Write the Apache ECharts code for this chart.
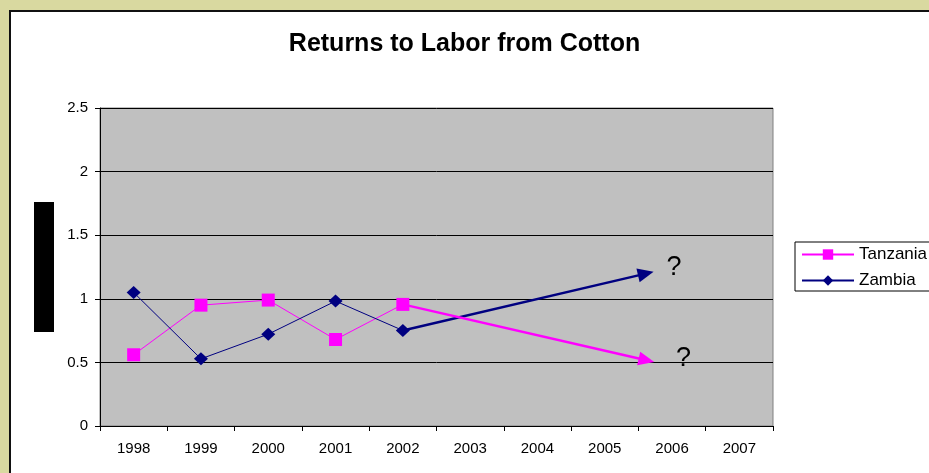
<!DOCTYPE html>
<html>
<head>
<meta charset="utf-8">
<script src="https://cdn.jsdelivr.net/npm/echarts@6/dist/echarts.min.js"></script>
<style>
  html, body { margin: 0; padding: 0; width: 929px; height: 473px; overflow: hidden; background: #D9D9A0; }
  #panel { position: absolute; left: 9px; top: 10px; width: 940px; height: 480px; background: #ffffff;
           border-left: 2px solid #111; border-top: 2px solid #111; }
  #chart { position: absolute; left: 0; top: 0; width: 929px; height: 473px; }
</style>
</head>
<body>
<div id="panel"></div>
<div id="chart"></div>
<script>
// Years on the horizontal axis
const years = ['1998', '1999', '2000', '2001', '2002', '2003', '2004', '2005', '2006', '2007'];

// Returns to labor from cotton, 1998-2002
const tanzania = [0.56, 0.95, 0.99, 0.68, 0.956];
const zambia = [1.05, 0.528, 0.722, 0.982, 0.751];

// Projected direction after 2002 (x in category-index units, center of a year = index + 0.5)
const zambiaTrendEnd = [8.11, 1.198];
const tanzaniaTrendEnd = [8.12, 0.517];

// Position of the "?" notes next to each projection
const zambiaQuestion = [8.53, 1.246];
const tanzaniaQuestion = [8.67, 0.529];

const yTicks = { min: 0, max: 2.5, interval: 0.5 };

const FONT = "'Liberation Sans', Arial, sans-serif";
const MAGENTA = '#FF00FF';
const NAVY = '#000080';

const lastIdx = tanzania.length - 1;

const chart = echarts.init(document.getElementById('chart'), null, { renderer: 'canvas' });

chart.setOption({
  animation: false,
  backgroundColor: 'transparent',
  textStyle: { fontFamily: FONT },
  title: {
    text: 'Returns to Labor from Cotton',
    left: 'center',
    top: 27,
    textStyle: { fontFamily: FONT, fontSize: 25, fontWeight: 'bold', color: '#000' }
  },
  legend: {
    orient: 'vertical',
    left: 795,
    top: 242,
    padding: [4, 12, 2, 6],
    itemWidth: 52,
    itemHeight: 13,
    itemGap: 9,
    borderColor: '#000',
    borderWidth: 1,
    backgroundColor: '#fff',
    data: ['Tanzania', 'Zambia'],
    textStyle: { fontFamily: FONT, fontSize: 17, color: '#000' }
  },
  grid: {
    left: 100,
    right: 156,
    top: 108,
    bottom: 47,
    show: true,
    backgroundColor: '#C0C0C0',
    borderColor: '#808080',
    borderWidth: 1
  },
  xAxis: [
    {
      type: 'category',
      data: years,
      boundaryGap: true,
      axisLine: { lineStyle: { color: '#000', width: 1 } },
      axisTick: { show: true, length: 5, lineStyle: { color: '#000' } },
      axisLabel: { fontFamily: FONT, fontSize: 15, color: '#000', margin: 15 },
      splitLine: { show: false }
    },
    {
      type: 'value',
      min: 0,
      max: years.length,
      show: false,
      splitLine: { show: false }
    }
  ],
  yAxis: {
    type: 'value',
    min: yTicks.min,
    max: yTicks.max,
    interval: yTicks.interval,
    axisLine: { show: true, lineStyle: { color: '#000', width: 1 } },
    axisTick: { show: true, length: 5, lineStyle: { color: '#000' } },
    axisLabel: { fontFamily: FONT, fontSize: 15, color: '#000', margin: 12 },
    splitLine: { show: true, lineStyle: { color: '#000', width: 1 } }
  },
  series: [
    {
      name: 'Tanzania',
      type: 'line',
      data: tanzania,
      symbol: 'rect',
      symbolSize: 13,
      showAllSymbol: true,
      lineStyle: { color: MAGENTA, width: 1 },
      itemStyle: { color: MAGENTA },
      z: 3
    },
    {
      name: 'Zambia',
      type: 'line',
      data: zambia,
      symbol: 'diamond',
      symbolSize: [14, 13],
      showAllSymbol: true,
      lineStyle: { color: NAVY, width: 1 },
      itemStyle: { color: NAVY },
      z: 4
    },
    {
      // projection arrows drawn on the continuous helper x axis
      name: 'projection',
      type: 'line',
      xAxisIndex: 1,
      data: [],
      silent: true,
      markLine: {
        silent: true,
        symbol: ['none', 'triangle'],
        symbolSize: [14, 16],
        label: { show: false },
        emphasis: { disabled: true },
        data: [
          [
            { coord: [lastIdx + 0.5, zambia[lastIdx]], lineStyle: { color: NAVY, width: 2.5, type: 'solid' }, itemStyle: { color: NAVY } },
            { coord: zambiaTrendEnd }
          ],
          [
            { coord: [lastIdx + 0.5, tanzania[lastIdx]], lineStyle: { color: MAGENTA, width: 2.5, type: 'solid' }, itemStyle: { color: MAGENTA } },
            { coord: tanzaniaTrendEnd }
          ]
        ]
      },
      z: 5
    },
    {
      name: 'notes',
      type: 'scatter',
      xAxisIndex: 1,
      symbolSize: 2,
      itemStyle: { color: 'rgba(0,0,0,0)' },
      silent: true,
      data: [zambiaQuestion, tanzaniaQuestion],
      label: {
        show: true,
        position: 'inside',
        formatter: '?',
        fontFamily: FONT,
        fontSize: 27,
        color: '#000',
        opacity: 1
      },
      labelLayout: { hideOverlap: false },
      z: 6
    }
  ],
  graphic: [
    {
      type: 'rect',
      left: 34,
      top: 202,
      shape: { width: 20, height: 130 },
      style: { fill: '#000' },
      z: 10
    }
  ]
});
</script>
</body>
</html>
